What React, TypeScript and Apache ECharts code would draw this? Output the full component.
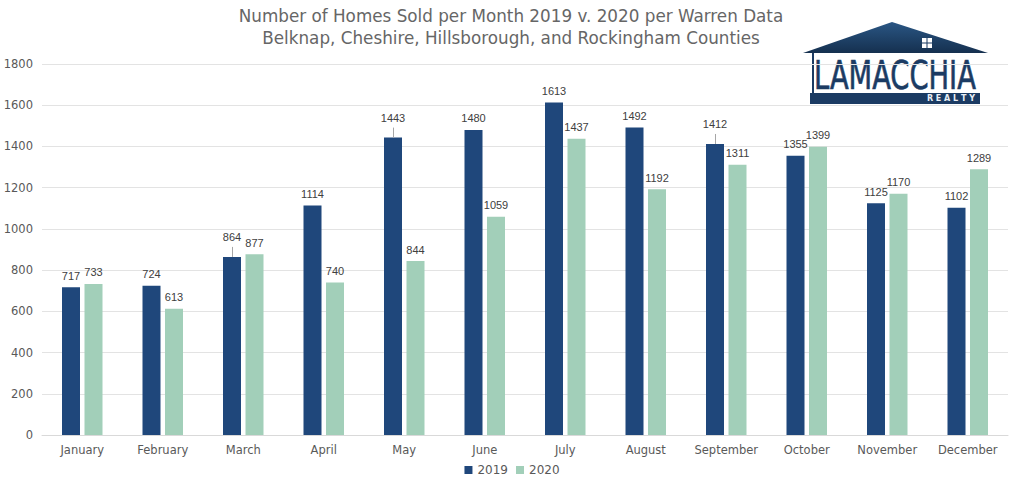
import React, { useEffect, useRef } from "react";
import * as echarts from "echarts";

const months = ["January", "February", "March", "April", "May", "June", "July", "August", "September", "October", "November", "December"];
const sold2019 = [717, 724, 864, 1114, 1443, 1480, 1613, 1492, 1412, 1355, 1125, 1102];
const sold2020 = [733, 613, 877, 740, 844, 1059, 1437, 1192, 1311, 1399, 1170, 1289];
const raised2019 = [2, 4, 8];
const titleLines = ["Number of Homes Sold per Month 2019 v. 2020 per Warren Data", "Belknap, Cheshire, Hillsborough, and Rockingham Counties"];

const BLUE = "#1f477b";
const GREEN = "#a2cfb9";
const NAVY = "#1b3b63";
const FONT = "DejaVu Sans";
const BAR_W = 18;
const BAR_GAP = 4.5;
const RAISE = 8;

export default function App() {
  const ref = useRef<HTMLDivElement>(null);
  useEffect(() => {
    document.body.style.margin = "0";
    const chart = echarts.init(ref.current!, null, { renderer: "svg" });
    const labelBase = { show: true, position: "top", distance: 6, color: "#404040", fontSize: 11, fontFamily: "Liberation Sans" };
    chart.setOption({
      animation: false,
      backgroundColor: "#ffffff",
      title: {
        text: titleLines.join("\n"),
        left: 511,
        top: 5,
        padding: 0,
        textAlign: "center",
        textStyle: { color: "#666666", fontSize: 16.8, fontWeight: "normal", fontFamily: FONT, lineHeight: 22 },
      },
      legend: {
        bottom: 7,
        left: "center",
        itemWidth: 8,
        itemHeight: 8,
        itemGap: 8,
        icon: "rect",
        textStyle: { color: "#595959", fontSize: 12, fontFamily: FONT },
        data: ["2019", "2020"],
      },
      grid: { left: 42, right: 16, top: 64, bottom: 53 },
      xAxis: {
        type: "category",
        data: months,
        axisLine: { lineStyle: { color: "#d9d9d9" } },
        axisTick: { show: false },
        axisLabel: { color: "#595959", fontSize: 11.5, fontFamily: FONT, margin: 9, interval: 0 },
      },
      yAxis: {
        type: "value",
        min: 0,
        max: 1800,
        interval: 200,
        axisLine: { show: false },
        axisTick: { show: false },
        splitLine: { lineStyle: { color: "#e3e3e3" } },
        axisLabel: { color: "#595959", fontSize: 11.5, fontFamily: FONT, margin: 9, formatter: (v: number) => String(v) },
      },
      series: [
        {
          name: "2019",
          type: "bar",
          barWidth: BAR_W,
          barGap: "25%",
          itemStyle: { color: BLUE },
          label: labelBase,
          data: sold2019.map((v, i) =>
            raised2019.includes(i) ? { value: v, label: { distance: 6 + RAISE } } : { value: v }
          ),
        },
        {
          name: "2020",
          type: "bar",
          barWidth: BAR_W,
          itemStyle: { color: GREEN },
          label: labelBase,
          data: sold2020,
        },
        {
          name: "leader",
          type: "custom",
          silent: true,
          z: 5,
          renderItem: (params: any, api: any) => {
            const p = api.coord([api.value(0), api.value(1)]);
            const x = Math.round(p[0] - (BAR_W + BAR_GAP) / 2) + 0.5;
            return {
              type: "line",
              shape: { x1: x, y1: p[1], x2: x, y2: p[1] - RAISE - 2 },
              style: { stroke: "#a6a6a6", lineWidth: 1 },
            };
          },
          data: raised2019.map((i) => [i, sold2019[i]]),
        },
      ],
      graphic: [
        {
          type: "group",
          left: 803,
          top: 22,
          children: [
            {
              type: "polygon",
              shape: { points: [[0, 31], [89, 0], [185, 31]] },
              style: {
                fill: new echarts.graphic.LinearGradient(0, 0, 0, 1, [
                  { offset: 0, color: "#2a5684" },
                  { offset: 1, color: "#15304f" },
                ]),
              },
            },
            { type: "rect", shape: { x: 119, y: 16, width: 10, height: 10 }, style: { fill: "#ffffff" } },
            { type: "rect", shape: { x: 123.5, y: 16, width: 1, height: 10 }, style: { fill: NAVY } },
            { type: "rect", shape: { x: 119, y: 20.5, width: 10, height: 1 }, style: { fill: NAVY } },
            { type: "rect", shape: { x: 9, y: 31, width: 166, height: 51 }, style: { fill: "#ffffff" } },
            { type: "rect", shape: { x: 9, y: 31, width: 2, height: 51 }, style: { fill: NAVY } },
            { type: "rect", shape: { x: 7, y: 71, width: 170, height: 11 }, style: { fill: NAVY } },
            {
              type: "text",
              x: 11,
              y: 33,
              scaleX: 0.8,
              scaleY: 1.05,
              style: { text: "LAMACCHIA", fill: NAVY, stroke: NAVY, lineWidth: 0.6, font: "38px 'Liberation Sans Narrow', 'DejaVu Sans Condensed', sans-serif" },
            },
            {
              type: "text",
              x: 172,
              y: 72,
              style: { text: "R E A L T Y", fill: "#e8eef5", font: "bold 8px 'DejaVu Sans'", align: "right" },
            },
          ],
        },
      ],
    });
    return () => chart.dispose();
  }, []);
  return <div ref={ref} style={{ width: 1024, height: 488 }} />;
}
